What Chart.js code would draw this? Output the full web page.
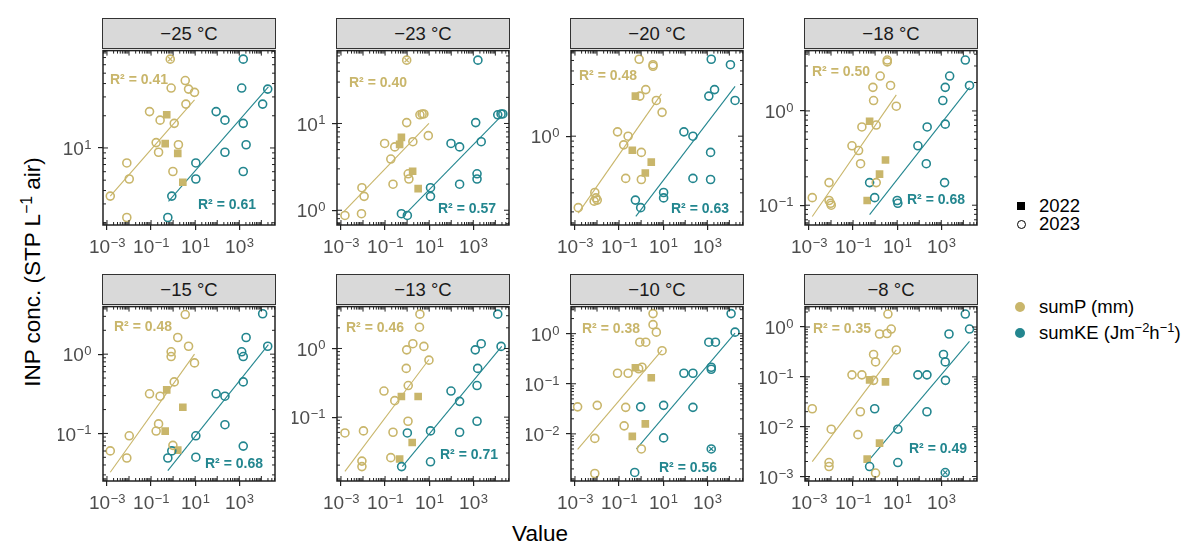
<!DOCTYPE html>
<html>
<head>
<meta charset="utf-8">
<script src="https://cdn.jsdelivr.net/npm/chart.js@4.4.1/dist/chart.umd.min.js"></script>
<style>
  body { margin: 0; width: 1188px; height: 541px; background: #fff; position: relative; overflow: hidden;
         font-family: "Liberation Sans", Arial, sans-serif; }
  canvas { position: absolute; }
  .strip { position: absolute; box-sizing: border-box; width: 174px; height: 31px; background: #d9d9d9;
           border: 1px solid #333; text-align: center; line-height: 29px; font-size: 18.5px; color: #1a1a1a; }
  .title { position: absolute; font-size: 22.5px; color: #000; white-space: nowrap; }
  .lg { position: absolute; left: 1039px; font-size: 18.5px; color: #000; white-space: nowrap; line-height: 20px; }
  .key { position: absolute; box-sizing: border-box; }
  sup { font-size: 0.7em; line-height: 0; }
</style>
</head>
<body>
<div class="title" style="left:540px; top:521px; transform:translateX(-50%)">Value</div>
<div class="title" style="left:33px; top:272px; transform:translate(-50%,-50%) rotate(-90deg)">INP conc. (STP L<sup>−1</sup> air)</div>

<div class="key" style="left:1017px; top:202px; width:8px; height:8px; background:#000"></div>
<div class="lg" style="top:196px">2022</div>
<div class="key" style="left:1017px; top:220px; width:9px; height:9px; border:1.5px solid #000; border-radius:50%"></div>
<div class="lg" style="top:214px">2023</div>
<div class="key" style="left:1015px; top:302px; width:10px; height:10px; background:#c9b66b; border-radius:50%"></div>
<div class="lg" style="top:297px">sumP (mm)</div>
<div class="key" style="left:1015px; top:328px; width:10px; height:10px; background:#23868f; border-radius:50%"></div>
<div class="lg" style="top:323px">sumKE (Jm<sup>−2</sup>h<sup>−1</sup>)</div>

<script>
"use strict";

// Facet labels and fit results
const temps = ["−25 °C", "−23 °C", "−20 °C", "−18 °C", "−15 °C", "−13 °C", "−10 °C", "−8 °C"];
const r2P = ["0.41", "0.40", "0.48", "0.50", "0.48", "0.46", "0.38", "0.35"];
const r2KE = ["0.61", "0.57", "0.63", "0.68", "0.68", "0.71", "0.56", "0.49"];

// Axes (log10 exponents)
const xTickExp = [-3, -1, 1, 3];
const xLimits = [-3.18, 4.62];
const yLimits = [[0.28, 1.91], [-0.17, 1.84], [-0.82, 0.79], [-1.21, 0.64],
                 [-1.60, 0.60], [-1.93, 0.61], [-2.94, 0.54], [-3.09, 0.41]];

// Points as [log10 value, log10 INP], one list per panel
const sumP2023 = [
  [[-0.13,1.83],[0.55,1.63],[-0.09,1.56],[0.70,1.55],[0.97,1.52],[0.58,1.41],[-1.07,1.34],[-0.59,1.26],[0.05,1.23],[-0.77,1.05],[0.24,1.03],[-0.66,0.96],[-2.10,0.86],[-1.99,0.71],[-0.01,0.78],[-2.85,0.55],[-2.10,0.35]],
  [[-0.02,1.73],[0.58,1.10],[0.68,1.11],[0.76,1.11],[-0.02,1.01],[0.96,0.86],[-1.02,0.77],[-0.56,0.73],[0.26,0.79],[-0.74,0.59],[0.05,0.42],[0.08,0.36],[-0.64,0.30],[-2.05,0.26],[-1.95,0.16],[-2.07,-0.04],[-2.82,-0.06]],
  [[-0.09,0.71],[0.54,0.66],[0.54,0.645],[0.21,0.43],[-0.06,0.37],[0.69,0.33],[0.95,0.22],[-1.07,0.04],[-0.59,0.0],[-0.79,-0.08],[0.01,-0.15],[-0.70,-0.39],[0.01,-0.40],[-2.10,-0.52],[-2.05,-0.57],[-1.99,-0.59],[-2.13,-0.60],[-2.85,-0.66]],
  [[0.55,0.54],[0.55,0.52],[0.23,0.37],[-0.10,0.25],[0.70,0.27],[-0.07,0.11],[0.96,0.05],[-0.60,-0.17],[0.05,-0.15],[-1.05,-0.37],[-0.75,-0.42],[-0.66,-0.56],[-2.09,-0.76],[0.05,-0.76],[-2.09,-0.95],[-2.02,-0.98],[-1.99,-1.0],[-2.85,-0.92]],
  [[0.55,0.50],[0.21,0.21],[0.70,0.10],[-0.09,0.03],[-0.09,-0.03],[0.97,-0.11],[0.05,-0.35],[-1.07,-0.50],[-0.59,-0.53],[-0.66,-0.88],[-0.77,-0.97],[-1.99,-1.03],[-0.01,-1.15],[-2.85,-1.22],[-2.10,-1.31]],
  [[0.58,0.50],[0.56,0.31],[0.26,0.07],[-0.02,-0.02],[0.76,0.03],[0.99,-0.17],[-0.04,-0.29],[0.05,-0.54],[-1.05,-0.62],[-0.56,-0.76],[0.04,-1.06],[-2.82,-1.23],[-1.98,-1.20],[-0.64,-1.22],[-0.74,-1.59],[-2.05,-1.64],[-2.05,-1.72]],
  [[0.54,0.40],[0.54,0.18],[0.69,0.03],[-0.06,-0.17],[0.21,-0.17],[0.95,-0.34],[0.04,-0.67],[-0.11,-0.70],[-1.07,-0.79],[-0.59,-0.79],[-2.88,-1.46],[-1.99,-1.43],[-0.70,-1.47],[-0.77,-1.84],[-2.10,-2.09],[0.01,-2.30],[-2.10,-2.79]],
  [[0.58,0.26],[0.20,-0.14],[0.54,-0.13],[0.73,-0.04],[0.96,-0.46],[-0.07,-0.55],[0.02,-0.70],[-1.05,-0.96],[-0.60,-0.96],[-0.07,-1.07],[-2.85,-1.64],[-0.67,-1.70],[-1.99,-2.05],[-0.78,-2.16],[-2.09,-2.72],[-2.09,-2.80],[0.02,-2.93]]
];
const sumP2022 = [
  [[-0.29,1.31],[-0.36,1.04],[0.21,0.95],[0.44,0.68]],
  [[-0.26,0.84],[-0.34,0.76],[0.25,0.45],[0.50,0.25]],
  [[-0.26,0.37],[-0.40,-0.13],[0.46,-0.24],[0.19,-0.34]],
  [[-0.25,-0.11],[0.47,-0.52],[0.20,-0.67],[-0.36,-0.95]],
  [[-0.29,-0.45],[0.44,-0.67],[-0.36,-0.97],[0.21,-1.21]],
  [[-0.26,-0.70],[0.50,-0.70],[0.23,-1.37],[-0.34,-1.61]],
  [[-0.26,-0.68],[0.46,-0.88],[0.19,-1.80],[-0.40,-2.05]],
  [[-0.25,-1.06],[0.47,-1.10],[0.20,-2.33],[-0.36,-2.65]]
];
const sumKE2023 = [
  [[3.18,1.83],[3.11,1.56],[4.29,1.55],[4.06,1.41],[1.95,1.34],[2.35,1.26],[3.18,1.23],[3.31,1.03],[2.35,0.96],[1.03,0.86],[1.03,0.71],[3.18,0.78],[-0.06,0.55],[-0.24,0.35]],
  [[3.21,1.73],[4.26,1.11],[4.34,1.11],[4.11,1.10],[3.11,1.01],[3.36,0.79],[1.99,0.77],[2.38,0.73],[3.17,0.42],[3.17,0.36],[2.38,0.30],[1.06,0.26],[1.06,0.16],[-0.26,-0.04],[0.01,-0.06]],
  [[3.18,0.71],[4.05,0.66],[3.33,0.43],[3.07,0.37],[4.26,0.33],[1.94,0.04],[2.35,0.0],[3.15,-0.15],[2.35,-0.39],[3.15,-0.40],[1.02,-0.52],[1.02,-0.57],[-0.26,-0.59],[-0.02,-0.66]],
  [[4.09,0.54],[3.38,0.37],[3.18,0.25],[4.28,0.27],[3.07,0.11],[3.18,-0.14],[2.36,-0.17],[1.94,-0.37],[2.32,-0.56],[3.15,-0.76],[-0.25,-0.76],[-0.02,-0.92],[1.00,-0.95],[1.03,-0.98]],
  [[4.06,0.51],[3.31,0.21],[4.29,0.10],[3.11,0.03],[3.18,-0.03],[3.18,-0.35],[1.95,-0.50],[2.35,-0.53],[2.35,-0.89],[1.03,-1.03],[3.18,-1.16],[-0.06,-1.22],[-0.24,-1.31],[1.03,-1.30]],
  [[4.11,0.50],[3.36,0.07],[3.09,-0.02],[4.26,0.03],[3.20,-0.29],[3.17,-0.54],[1.99,-0.62],[2.38,-0.77],[3.17,-1.06],[2.38,-1.22],[0.01,-1.23],[1.06,-1.20],[1.06,-1.65],[-0.25,-1.72]],
  [[4.08,0.40],[4.26,0.03],[3.07,-0.17],[3.37,-0.17],[3.18,-0.67],[3.18,-0.71],[1.94,-0.79],[2.35,-0.79],[-0.02,-1.46],[1.02,-1.43],[2.35,-1.47],[1.02,-2.08],[3.18,-2.30],[-0.29,-2.77]],
  [[4.09,0.26],[4.28,-0.04],[3.35,-0.14],[3.10,-0.55],[3.18,-0.70],[3.19,-1.07],[1.94,-0.96],[2.35,-0.96],[-0.02,-1.64],[2.35,-1.70],[1.03,-2.05],[-0.25,-2.80],[1.03,-2.72],[3.18,-2.92]]
];
// overlapping points drawn with a cross
const crossedP = [[[-0.13,1.83]], [[-0.02,1.73]], [], [], [], [], [], []];
const crossedKE = [[], [], [], [], [], [], [[3.18,-2.30]], [[3.18,-2.92]]];

// Fit lines: [x0, y0, x1, y1] in log10 units
const fitP = [[-2.85,0.55,0.97,1.45], [-2.88,-0.02,0.99,1.00], [-2.85,-0.71,0.92,0.39], [-2.85,-1.12,0.96,0.17],
              [-2.85,-1.49,0.97,0.0], [-2.82,-1.79,0.99,-0.16], [-2.88,-2.31,0.95,-0.33], [-2.85,-2.70,0.96,-0.46]];
const fitKE = [[-0.21,0.50,4.32,1.57], [-0.14,-0.06,4.29,1.09], [-0.24,-0.74,4.26,0.46], [-0.25,-1.10,4.28,0.25],
               [-0.24,-1.47,4.32,0.12], [-0.22,-1.72,4.29,0.03], [-0.21,-2.30,4.26,0.01], [-0.22,-2.64,4.28,-0.29]];

// layout
const colLeft = [103, 337, 571, 805];
const rowTop = [49, 305];
const plotW = 172, plotH = 176;
const r2PosP = [[36, 30], [41, 33], [37, 26], [36, 22], [40, 21], [38, 22], [40, 23], [37, 23]];
const r2PosKE = [[124, 155], [130, 159], [129, 159], [131, 150], [131, 158], [132, 149], [117, 162], [133, 143]];

const gold = "#c9b66b";
const teal = "#23868f";
const FONT = '"Liberation Sans", Arial, sans-serif';
Chart.defaults.font.family = FONT;

const toPts = (pairs) => pairs.map(([x, y]) => ({ x: 10 ** x, y: 10 ** y }));
const fitPts = (f) => toPts([[f[0], f[1]], [f[2], f[3]]]);

// "10" with a raised exponent
function drawPow(ctx, e, x, y, align) {
  const base = "10", ex = String(e).replace("-", "−");
  ctx.font = "19px " + FONT;
  const w1 = ctx.measureText(base).width;
  ctx.font = "13px " + FONT;
  const w2 = ctx.measureText(ex).width;
  const x0 = align === "right" ? x - w1 - w2 : x - (w1 + w2) / 2;
  ctx.textAlign = "left";
  ctx.font = "19px " + FONT;
  ctx.textBaseline = "middle";
  ctx.fillText(base, x0, y);
  ctx.font = "13px " + FONT;
  ctx.textBaseline = "alphabetic";
  ctx.fillText(ex, x0 + w1 + 0.5, y - 1);
}

const panelDecor = {
  id: "panelDecor",
  afterDraw(chart) {
    const ctx = chart.ctx;
    const { left, right, top, bottom } = chart.chartArea;
    const xs = chart.scales.x, ys = chart.scales.y;
    const i = chart.options.panelIndex;
    ctx.save();

    // log ticks on all four sides, inside the panel
    ctx.strokeStyle = "#222";
    ctx.lineWidth = 1;
    ctx.beginPath();
    const logTicks = (scale, cb) => {
      const lo = Math.log10(scale.min), hi = Math.log10(scale.max);
      for (let n = Math.floor(lo); n <= Math.ceil(hi); n++) {
        for (let k = 1; k <= 9; k++) {
          const v = k * 10 ** n;
          if (v < scale.min || v > scale.max) continue;
          cb(scale.getPixelForValue(v), k === 1 ? 5 : 3);
        }
      }
    };
    logTicks(xs, (px, len) => {
      ctx.moveTo(px, bottom); ctx.lineTo(px, bottom - len);
      ctx.moveTo(px, top); ctx.lineTo(px, top + len);
    });
    logTicks(ys, (py, len) => {
      ctx.moveTo(left, py); ctx.lineTo(left + len, py);
      ctx.moveTo(right, py); ctx.lineTo(right - len, py);
    });
    ctx.stroke();

    // panel border
    ctx.lineWidth = 1.5;
    ctx.strokeRect(left, top, right - left, bottom - top);

    // tick labels
    ctx.fillStyle = "#4d4d4d";
    xs.ticks.forEach((t) => drawPow(ctx, Math.round(Math.log10(t.value)), xs.getPixelForValue(t.value), bottom + 23, "center"));
    ys.ticks.forEach((t) => drawPow(ctx, Math.round(Math.log10(t.value)), left - 12, ys.getPixelForValue(t.value) + 2, "right"));

    // R² labels
    ctx.font = "bold 14px " + FONT;
    ctx.textAlign = "center";
    ctx.textBaseline = "middle";
    ctx.fillStyle = gold;
    ctx.fillText("R² = " + r2P[i], left + r2PosP[i][0], top + r2PosP[i][1]);
    ctx.fillStyle = teal;
    ctx.fillText("R² = " + r2KE[i], left + r2PosKE[i][0], top + r2PosKE[i][1]);
    ctx.restore();
  }
};

function makePanel(i) {
  const plotLeft = colLeft[i % 4];
  const plotTop = rowTop[Math.floor(i / 4)];

  const strip = document.createElement("div");
  strip.className = "strip";
  strip.style.left = (plotLeft - 1) + "px";
  strip.style.top = (plotTop - 31) + "px";
  strip.textContent = temps[i];
  document.body.appendChild(strip);

  const canvas = document.createElement("canvas");
  canvas.width = 45 + plotW + 6;
  canvas.height = 4 + plotH + 34;
  canvas.style.left = (plotLeft - 45) + "px";
  canvas.style.top = (plotTop - 4) + "px";
  document.body.appendChild(canvas);

  const circles = (data, color) => ({
    data: toPts(data), pointStyle: "circle", pointRadius: 4, pointBorderWidth: 1.6,
    borderColor: color, backgroundColor: "rgba(0,0,0,0)"
  });
  const crosses = (data, color) => ({
    data: toPts(data), pointStyle: "crossRot", pointRadius: 3, pointBorderWidth: 1.2,
    borderColor: color, backgroundColor: color
  });
  const line = (f, color) => ({
    data: fitPts(f), showLine: true, pointRadius: 0, borderColor: color, borderWidth: 1.1
  });

  const yl = yLimits[i];
  const yTicks = [];
  for (let e = Math.ceil(yl[0]); e <= Math.floor(yl[1]); e++) yTicks.push(e);

  new Chart(canvas, {
    type: "scatter",
    data: {
      datasets: [
        crosses(crossedP[i], gold),
        crosses(crossedKE[i], teal),
        circles(sumP2023[i], gold),
        circles(sumKE2023[i], teal),
        {
          data: toPts(sumP2022[i]), pointStyle: "rect", pointRadius: 5.4, pointBorderWidth: 0,
          borderColor: gold, backgroundColor: gold
        },
        line(fitP[i], gold),
        line(fitKE[i], teal)
      ]
    },
    options: {
      panelIndex: i,
      responsive: false,
      animation: false,
      events: [],
      layout: { padding: { top: 4, right: 6, left: 0, bottom: 0 } },
      plugins: { legend: { display: false }, tooltip: { enabled: false } },
      scales: {
        x: {
          type: "logarithmic",
          min: 10 ** xLimits[0],
          max: 10 ** xLimits[1],
          afterBuildTicks: (s) => { s.ticks = xTickExp.map((e) => ({ value: 10 ** e })); },
          afterFit: (s) => { s.height = 34; },
          ticks: { display: false },
          grid: { drawOnChartArea: false, drawTicks: true, tickLength: 5, color: "#222", lineWidth: 1.2 },
          border: { display: false }
        },
        y: {
          type: "logarithmic",
          min: 10 ** yl[0],
          max: 10 ** yl[1],
          afterBuildTicks: (s) => { s.ticks = yTicks.map((e) => ({ value: 10 ** e })); },
          afterFit: (s) => { s.width = 45; },
          ticks: { display: false },
          grid: { drawOnChartArea: false, drawTicks: true, tickLength: 5, color: "#222", lineWidth: 1.2 },
          border: { display: false }
        }
      }
    },
    plugins: [panelDecor]
  });
}

for (let i = 0; i < temps.length; i++) makePanel(i);
</script>
</body>
</html>
